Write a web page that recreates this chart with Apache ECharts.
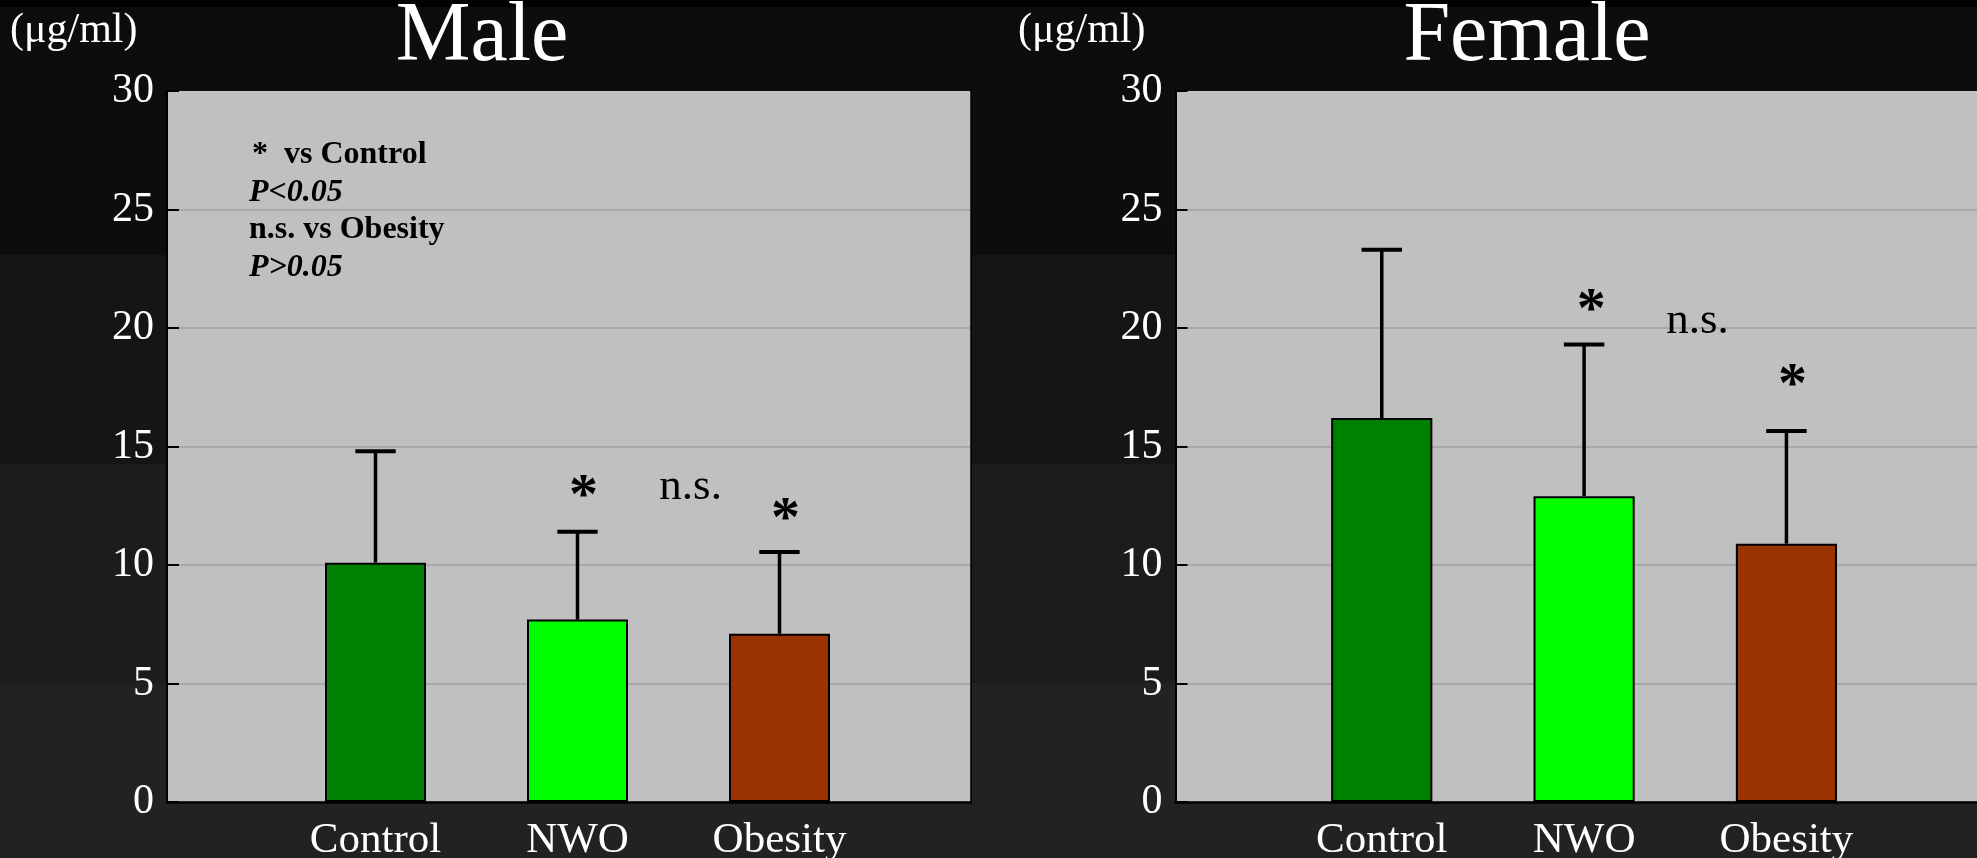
<!DOCTYPE html>
<html>
<head>
<meta charset="utf-8">
<script src="https://cdn.jsdelivr.net/npm/echarts@6/dist/echarts.min.js"></script>
<style>
html,body{margin:0;padding:0;}
body{background:linear-gradient(to bottom,#000 0px,#000 7px,#0d0d0d 7px,#0d0d0d 255px,#151515 255px,#151515 464px,#1c1c1c 464px,#1c1c1c 683px,#222222 683px,#222222 858px);}
#chart{width:1977px;height:858px;}
</style>
</head>
<body>
<div id="chart"></div>
<script>
// ---- data ----
const categories = ['Control', 'NWO', 'Obesity'];
const barColors = ['#008000', '#00ff00', '#993300'];
const maleMeans = [10.1, 7.7, 7.1];
const maleSD = [4.7, 3.7, 3.45];
const femaleMeans = [16.2, 12.9, 10.9];
const femaleSD = [7.1, 6.4, 4.75];
const yMin = 0, yMax = 30, yStep = 5;
const noteText = ['*', 'n.s.', '*'];
const maleNoteX = [1.03, 1.56, 2.03];
const maleNoteY = [13.4, 13.3, 12.43];
const femaleNoteX = [1.035, 1.56, 2.03];
const femaleNoteY = [21.25, 20.3, 18.1];
const legendLines = ['*  vs Control', 'P<0.05', 'n.s. vs Obesity', 'P>0.05'];
const panelTitles = ['Male', 'Female'];
const unitText = '(\u03bcg/ml)';

const SERIF = "'Liberation Serif','Times New Roman',serif";

const chart = echarts.init(document.getElementById('chart'), null, {renderer: 'canvas'});

function frameY(gridIndex, showLabels) {
  return {
    type: 'value', gridIndex: gridIndex, min: yMin, max: yMax, interval: yStep,
    axisLine: {show: true, lineStyle: {color: '#000', width: 2}},
    axisTick: {show: true, inside: true, length: 12, lineStyle: {color: '#000', width: 2}},
    axisLabel: {show: showLabels, color: '#fff', fontFamily: SERIF, fontSize: 42, margin: 13},
    splitLine: {show: true, showMaxLine: false, lineStyle: {color: '#a8a8a8', width: 2}}
  };
}
function frameX(gridIndex) {
  return {
    type: 'value', gridIndex: gridIndex, min: 0, max: 1,
    axisLine: {show: true, onZero: false, lineStyle: {color: '#000', width: 2.5}},
    axisTick: {show: false}, axisLabel: {show: false}, splitLine: {show: false}
  };
}
function catX(gridIndex) {
  return {
    type: 'category', gridIndex: gridIndex, data: categories,
    axisLine: {show: false}, axisTick: {show: false},
    axisLabel: {color: '#fff', fontFamily: SERIF, fontSize: 43, margin: 17}
  };
}
function noteX(gridIndex) {
  return {type: 'value', gridIndex: gridIndex, min: -0.5, max: 2.5, show: false};
}
function hiddenY(gridIndex) {
  return {type: 'value', gridIndex: gridIndex, min: yMin, max: yMax, show: false};
}

function barSeries(xi, yi, means) {
  return {
    type: 'bar', xAxisIndex: xi, yAxisIndex: yi, barWidth: '50%', z: 3,
    data: means.map((v, i) => ({value: v, itemStyle: {color: barColors[i]}})),
    itemStyle: {borderColor: '#000', borderWidth: 2}
  };
}
function errRender(params, api) {
  const i = api.value(0), m = api.value(1), sd = api.value(2);
  const base = api.coord([i, m]);
  const top = api.coord([i, m + sd]);
  const capW = api.size([1, 0])[0] * 0.2;
  return {
    type: 'group', children: [
      {type: 'line', shape: {x1: base[0], y1: base[1], x2: top[0], y2: top[1] }, style: {stroke: '#000', lineWidth: 3.5}},
      {type: 'line', shape: {x1: top[0] - capW / 2, y1: top[1], x2: top[0] + capW / 2, y2: top[1]}, style: {stroke: '#000', lineWidth: 4}}
    ]
  };
}
function errSeries(xi, yi, means, sds) {
  return {
    type: 'custom', xAxisIndex: xi, yAxisIndex: yi, z: 2,
    data: means.map((m, i) => [i, m, sds[i]]),
    renderItem: errRender
  };
}
function noteRender(params, api) {
  const p = api.coord([api.value(0), api.value(1)]);
  const t = noteText[params.dataIndex];
  const isStar = t === '*';
  const fs = isStar ? 58 : 45;
  return {
    type: 'text', x: p[0], y: p[1] + (isStar ? fs * 0.24 : 0),
    style: {text: t, fontFamily: SERIF, fontSize: fs, fontWeight: isStar ? 'bold' : 'normal', fill: '#000', align: 'center', verticalAlign: 'middle'}
  };
}
function noteSeries(xi, yi, xs, ys) {
  return {
    type: 'custom', xAxisIndex: xi, yAxisIndex: yi, z: 4,
    data: xs.map((x, i) => [x, ys[i]]),
    renderItem: noteRender
  };
}

const legendGraphics = legendLines.map((t, i) => ({
  type: 'text', left: i === 0 ? 252 : 249, top: 139 + i * 37.5,
  style: {
    text: t, fill: '#000', fontFamily: SERIF, fontSize: 32, fontWeight: 'bold',
    fontStyle: (i % 2 === 1) ? 'italic' : 'normal'
  },
  z: 10
}));

const option = {
  backgroundColor: 'transparent',
  animation: false,
  grid: [
    {left: 167, top: 91, width: 804, height: 711, show: true, backgroundColor: '#c0c0c0', borderWidth: 0, outerBoundsMode: 'none', containLabel: false},
    {left: 274.5, top: 91, width: 606, height: 711, outerBoundsMode: 'none', containLabel: false},
    {left: 1175.5, top: 91, width: 801.5, height: 711, show: true, backgroundColor: '#c0c0c0', borderWidth: 0, outerBoundsMode: 'none', containLabel: false},
    {left: 1280.6, top: 91, width: 607, height: 711, outerBoundsMode: 'none', containLabel: false}
  ],
  xAxis: [frameX(0), catX(1), noteX(1), frameX(2), catX(3), noteX(3)],
  yAxis: [
    frameY(0, true),
    {type: 'value', gridIndex: 0, position: 'right', min: yMin, max: yMax,
     axisLine: {show: true, lineStyle: {color: '#000', width: 1.5}},
     axisTick: {show: false}, axisLabel: {show: false}, splitLine: {show: false}},
    hiddenY(1),
    frameY(2, true),
    hiddenY(3)
  ],
  series: [
    barSeries(1, 2, maleMeans),
    errSeries(1, 2, maleMeans, maleSD),
    noteSeries(2, 2, maleNoteX, maleNoteY),
    barSeries(4, 4, femaleMeans),
    errSeries(4, 4, femaleMeans, femaleSD),
    noteSeries(5, 4, femaleNoteX, femaleNoteY)
  ],
  graphic: [
    {type: 'text', x: 482, y: 38, style: {text: panelTitles[0], fill: '#fff', fontFamily: SERIF, fontSize: 84, align: 'center', verticalAlign: 'middle'}},
    {type: 'text', x: 1527, y: 38, style: {text: panelTitles[1], fill: '#fff', fontFamily: SERIF, fontSize: 84, align: 'center', verticalAlign: 'middle'}},
    {type: 'text', x: 10, y: 31, style: {text: unitText, fill: '#fff', fontFamily: SERIF, fontSize: 42, align: 'left', verticalAlign: 'middle'}},
    {type: 'text', x: 1018, y: 31, style: {text: unitText, fill: '#fff', fontFamily: SERIF, fontSize: 42, align: 'left', verticalAlign: 'middle'}}
  ].concat(legendGraphics)
};
chart.setOption(option);
</script>
</body>
</html>
